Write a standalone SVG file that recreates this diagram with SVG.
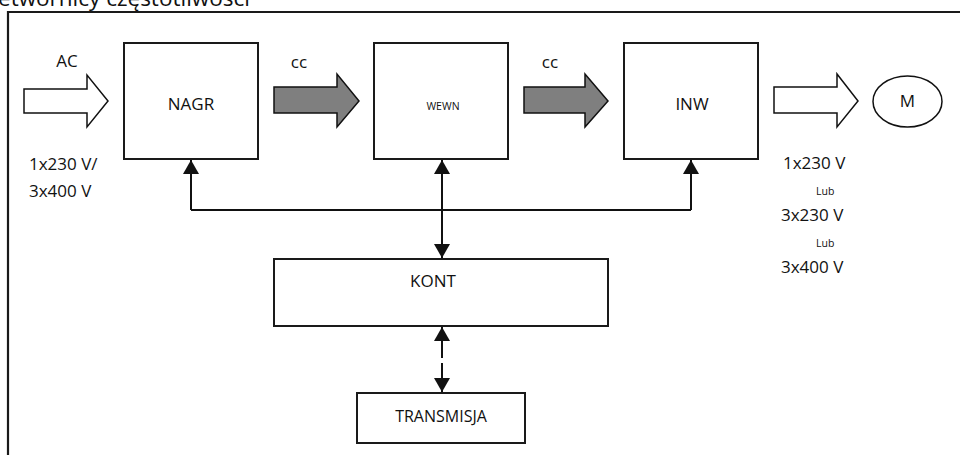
<svg xmlns="http://www.w3.org/2000/svg" width="960" height="455" viewBox="0 0 960 455">
<defs>
<style>
text{font-family:"Open Sans","Noto Sans","Liberation Sans",sans-serif;fill:#111}
.box{fill:#fff;stroke:#1a1a1a;stroke-width:2}
.fat{stroke:#111;stroke-width:1.5;stroke-linejoin:miter}
.white{fill:#fff}
.gray{fill:#7f7f7f}
.ln{fill:none;stroke:#111;stroke-width:2}
.l16{font-size:17px}
.c{text-anchor:middle}
.sm{font-size:10.5px}
</style>
<marker id="ah" viewBox="0 0 14 16" refX="14" refY="8" markerWidth="14" markerHeight="16" markerUnits="userSpaceOnUse" orient="auto">
<path d="M0,0 L14,8 L0,16 Z" fill="#111"/>
</marker>
</defs>
<rect width="960" height="455" fill="#fff"/>
<text x="-2" y="6" style="font-size:22.5px">etwornicy częstotliwości</text>
<path d="M8,455 V12 H960" fill="none" stroke="#1a1a1a" stroke-width="2.2"/>

<g id="in-arrow">
<polygon class="fat white" points="24,89 87,89 87,75 108,101 87,127 87,113 24,113"/>
<text class="l16 c" x="67" y="67">AC</text>
<text class="l16" x="29" y="170">1x230 V/</text>
<text class="l16" x="29" y="197">3x400 V</text>
</g>

<g id="nagr">
<rect class="box" x="124" y="43" width="134" height="116"/>
<text class="l16 c" x="191" y="110">NAGR</text>
</g>

<g id="cc1">
<polygon class="fat gray" points="274,87 337,87 337,74 359,101 337,127 337,113 274,113"/>
<text class="l16 c" x="299" y="68">cc</text>
</g>

<g id="wewn">
<rect class="box" x="374" y="43" width="134" height="116"/>
<text class="sm c" x="443" y="110">WEWN</text>
</g>

<g id="cc2">
<polygon class="fat gray" points="524,87 585,87 585,74 608,101 585,127 585,113 524,113"/>
<text class="l16 c" x="550" y="68">cc</text>
</g>

<g id="inw">
<rect class="box" x="624" y="43" width="134" height="116"/>
<text class="l16 c" x="692" y="110">INW</text>
</g>

<g id="out-arrow">
<polygon class="fat white" points="774,87 837,87 837,74 858,101 837,127 837,113 774,113"/>
<text class="l16" x="783" y="169">1x230 V</text>
<text class="sm" x="816" y="195">Lub</text>
<text class="l16" x="781" y="221">3x230 V</text>
<text class="sm" x="816" y="247">Lub</text>
<text class="l16" x="781" y="273">3x400 V</text>
</g>

<g id="motor">
<ellipse cx="907.5" cy="101.5" rx="34.5" ry="25.5" fill="#fff" stroke="#111" stroke-width="1.5"/>
<text class="l16 c" x="907.5" y="107">M</text>
</g>

<g id="kont">
<rect class="box" x="274" y="259" width="334" height="67"/>
<text class="l16 c" x="433" y="287">KONT</text>
</g>

<g id="transmisja">
<rect class="box" x="357" y="393" width="168" height="50"/>
<text class="c" style="font-size:16px" x="441" y="422">TRANSMISJA</text>
</g>

<g id="connectors">
<path class="ln" d="M191,210 H691"/>
<path class="ln" d="M191,210 V160" marker-end="url(#ah)"/>
<path class="ln" d="M691,210 V160" marker-end="url(#ah)"/>
<path class="ln" d="M442,210 V160" marker-end="url(#ah)"/>
<path class="ln" d="M442,210 V258" marker-end="url(#ah)"/>
<path class="ln" d="M442,343 V327" marker-end="url(#ah)"/>
<path class="ln" d="M442,377 V392" marker-end="url(#ah)"/>
<path class="ln" d="M442,343 V377" stroke-dasharray="15 5"/>
</g>
</svg>
